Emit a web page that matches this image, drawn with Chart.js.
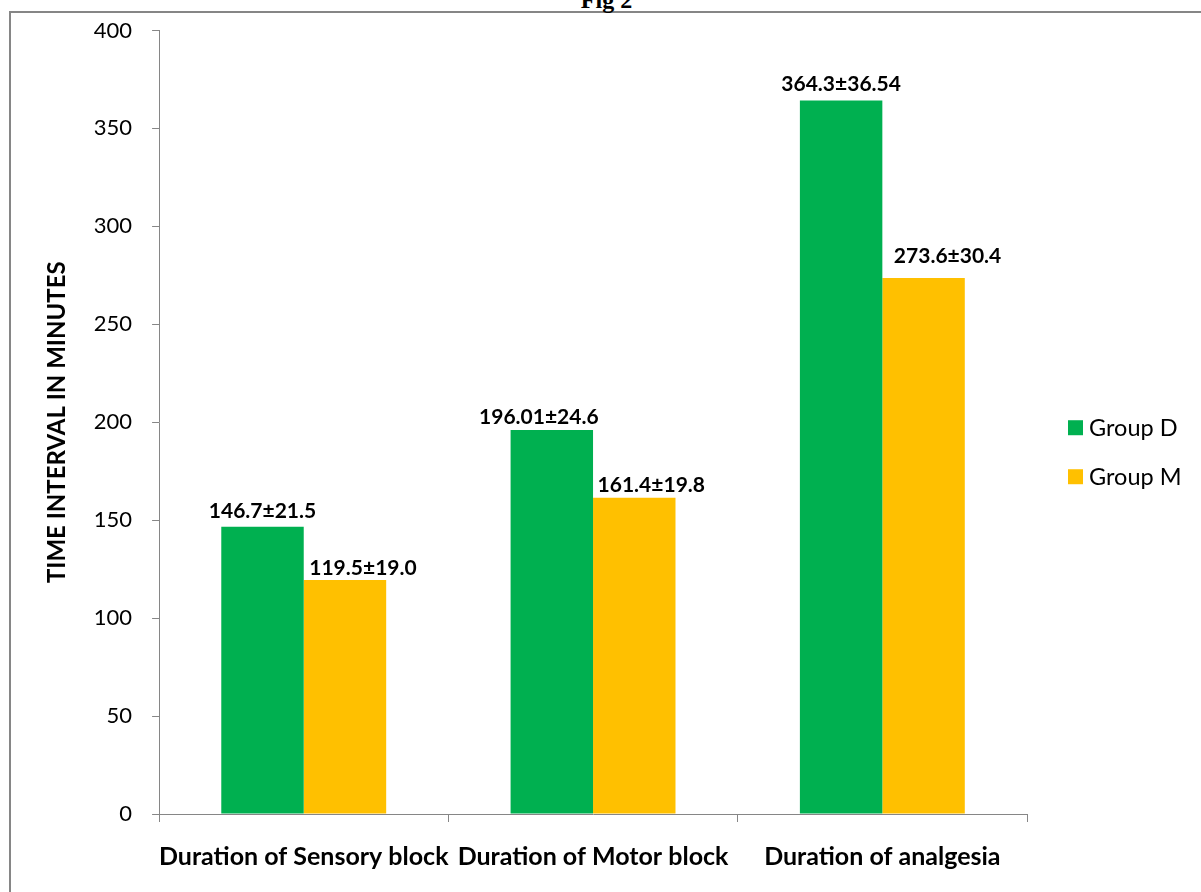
<!DOCTYPE html>
<html>
<head>
<meta charset="utf-8">
<script src="https://cdn.jsdelivr.net/npm/chart.js@4.4.1/dist/chart.umd.min.js"></script>
<style>
  html, body { margin: 0; padding: 0; background: #fff; overflow: hidden; }
  body { width: 1201px; height: 892px; position: relative; }
  #frame { position: absolute; left: 9px; top: 11px; width: 1250px; height: 950px; border: 2px solid #868686; box-sizing: border-box; }
  #fig { position: absolute; left: 0; width: 1201px; top: -12px; text-align: center; padding-left: 12px; box-sizing: border-box;
         font-family: "Liberation Serif", "DejaVu Serif", serif; font-weight: bold; font-size: 24px; line-height: 24px; color: #000; }
  #wrap { position: absolute; left: 0; top: 0; width: 1201px; height: 892px; }
</style>
</head>
<body>
<div id="frame"></div>
<div id="fig">Fig 2</div>
<div id="wrap"><canvas id="c" width="1201" height="892"></canvas></div>
<script>
const categories = ["Duration of Sensory block", "Duration of Motor block", "Duration of analgesia"];
const seriesNames = ["Group D", "Group M"];
const groupD = [146.7, 196.01, 364.3];
const groupM = [119.5, 161.4, 273.6];
const groupDsd = ["21.5", "24.6", "36.54"];
const groupMsd = ["19.0", "19.8", "30.4"];
const yTicks = [0, 50, 100, 150, 200, 250, 300, 350, 400];

const labelTexts = [
  groupD.map((v, i) => v + "\u00B1" + groupDsd[i]),
  groupM.map((v, i) => v + "\u00B1" + groupMsd[i])
];

const FONT = 'Lato, "Open Sans", sans-serif';

// label nudges (pixels) as placed in the original figure
const labelShiftX = [[0, -13, 0], [18, 17, 24]];
const labelGap = [[9, 6, 9], [5, 6, 15]];

const valueLabels = {
  id: 'valueLabels',
  afterDatasetsDraw(chart) {
    const ctx = chart.ctx;
    ctx.save();
    ctx.font = 'bold 21px ' + FONT;
    ctx.fillStyle = '#000';
    ctx.textAlign = 'center';
    ctx.textBaseline = 'alphabetic';
    chart.data.datasets.forEach((ds, di) => {
      const meta = chart.getDatasetMeta(di);
      meta.data.forEach((bar, i) => {
        ctx.fillText(labelTexts[di][i], bar.x + labelShiftX[di][i], bar.y - labelGap[di][i]);
      });
    });
    ctx.restore();
  }
};

// legend drawn to the right of the plot, items listed from the datasets
const sideLegend = {
  id: 'sideLegend',
  afterDraw(chart) {
    const ctx = chart.ctx;
    const area = chart.chartArea;
    const x0 = area.right + 41;
    const yMid = (area.top + area.bottom) / 2;
    const step = 49;
    const y0 = yMid + 7 - step * (chart.data.datasets.length - 1) / 2 + 23;
    ctx.save();
    ctx.font = '23.5px ' + FONT;
    ctx.textBaseline = 'middle';
    ctx.textAlign = 'left';
    chart.data.datasets.forEach((ds, i) => {
      const y = y0 + i * step;
      ctx.fillStyle = ds.backgroundColor;
      ctx.fillRect(x0, y - 7.5, 15, 15);
      ctx.fillStyle = '#000';
      ctx.fillText(ds.label, x0 + 21, y + 1);
    });
    ctx.restore();
  }
};

new Chart(document.getElementById('c'), {
  type: 'bar',
  data: {
    labels: categories,
    datasets: [
      { label: seriesNames[0], data: groupD, backgroundColor: '#00B050', categoryPercentage: 0.57, barPercentage: 1.0 },
      { label: seriesNames[1], data: groupM, backgroundColor: '#FFC000', categoryPercentage: 0.57, barPercentage: 1.0 }
    ]
  },
  options: {
    responsive: false,
    animation: false,
    layout: { padding: { left: 43, top: 16, right: 174, bottom: 0 } },
    plugins: {
      title: { display: false },
      tooltip: { enabled: false },
      legend: { display: false }
    },
    scales: {
      x: {
        grid: { display: true, drawOnChartArea: false, offset: true, color: '#868686', tickLength: 8, tickColor: '#868686' },
        border: { color: '#868686', width: 1 },
        ticks: { color: '#000', padding: 20, maxRotation: 0, minRotation: 0, autoSkip: false,
                 font: { family: FONT, size: 25, weight: 'bold' } }
      },
      y: {
        min: 0, max: 400,
        afterBuildTicks(axis) { axis.ticks = yTicks.map(v => ({ value: v })); },
        grid: { display: true, drawOnChartArea: false, color: '#868686', tickLength: 7, tickColor: '#868686' },
        border: { color: '#868686', width: 1 },
        title: { display: true, text: 'TIME INTERVAL IN MINUTES', color: '#000', padding: { top: 0, bottom: 2 },
                 font: { family: FONT, size: 24, weight: 'bold' } },
        ticks: { color: '#000', padding: 20, font: { family: FONT, size: 22, lineHeight: 0.95 } }
      }
    }
  },
  plugins: [valueLabels, sideLegend]
});
</script>
</body>
</html>
